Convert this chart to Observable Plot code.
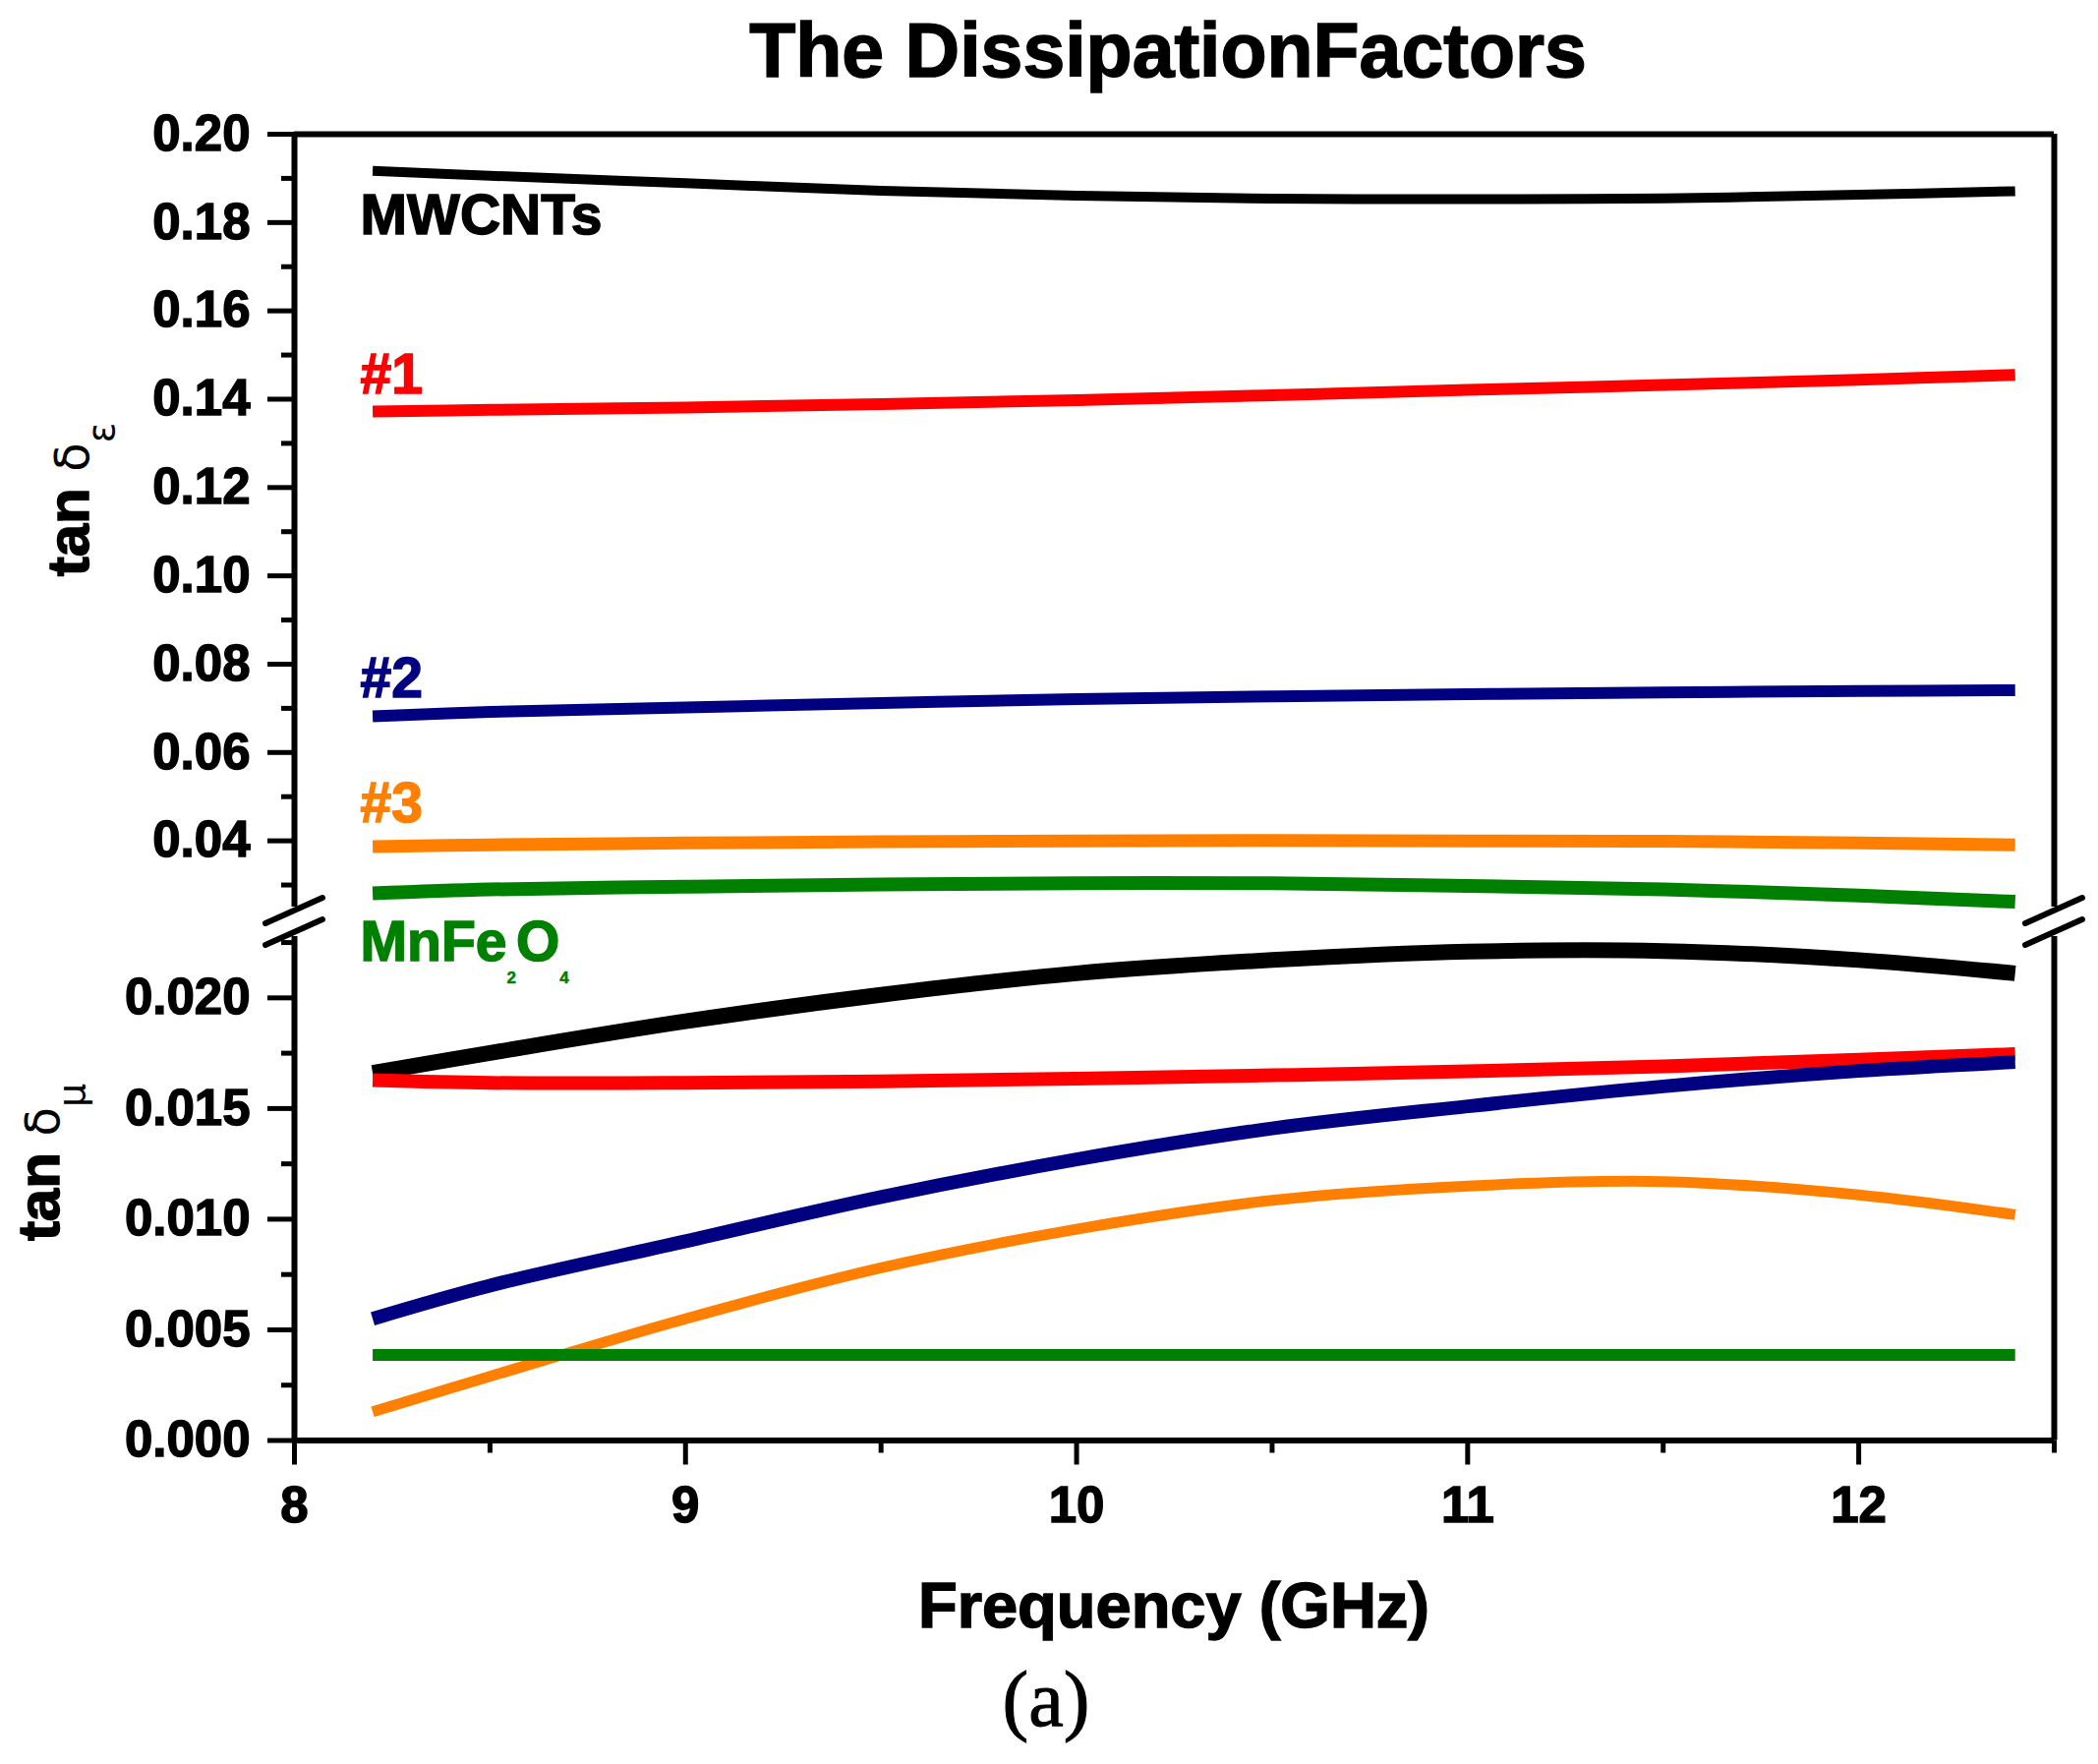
<!DOCTYPE html>
<html>
<head>
<meta charset="utf-8">
<script src="https://cdn.jsdelivr.net/npm/d3@7"></script>
<script src="https://cdn.jsdelivr.net/npm/@observablehq/plot@0.6"></script>
<style>
  html, body { margin: 0; padding: 0; background: #fff; }
  #wrap { position: relative; width: 2134px; height: 1794px; background: #fff; font-family: "Liberation Sans", Arial, sans-serif; }
  #wrap > svg { position: absolute; left: 0; top: 0; }
  #wrap g[aria-label="y-axis tick label"] text,
  #wrap g[aria-label="x-axis tick label"] text { stroke: #000; stroke-width: 1.4px; }
</style>
</head>
<body>
<div id="wrap"></div>
<script>
// ---------- data ----------
const freq = [8.2, 8.5, 9.0, 9.5, 10.0, 10.5, 11.0, 11.5, 12.0, 12.4];
const seriesNames = ["MWCNTs", "#1", "#2", "#3", "MnFe2O4"];
const seriesColors = ["#000000", "#ff0000", "#000080", "#ff8000", "#008000"];

// tan δε (upper panel)
const epsMWCNTs = [0.1917, 0.1906, 0.1889, 0.1872, 0.1861, 0.1854, 0.1853, 0.1855, 0.1863, 0.1871];
const eps1      = [0.1372, 0.1376, 0.1381, 0.1389, 0.1398, 0.1409, 0.1421, 0.1432, 0.1444, 0.1455];
const eps2      = [0.0682, 0.0692, 0.0702, 0.0712, 0.0721, 0.0727, 0.0732, 0.0736, 0.0739, 0.0741];
const eps3      = [0.0387, 0.0391, 0.0395, 0.0398, 0.0400, 0.0401, 0.0400, 0.0399, 0.0395, 0.0391];
const epsMnFe   = [0.0281, 0.0290, 0.0296, 0.0301, 0.0304, 0.0304, 0.0298, 0.0290, 0.0276, 0.0262];

// tan δμ (lower panel)
const muMWCNTs = [0.01661, 0.01751, 0.01894, 0.02014, 0.02111, 0.02171, 0.02209, 0.02212, 0.02171, 0.02111];
const mu1      = [0.01628, 0.01616, 0.01616, 0.01623, 0.01635, 0.01650, 0.01668, 0.01691, 0.01721, 0.01746];
const mu2      = [0.00550, 0.00700, 0.00900, 0.01100, 0.01270, 0.01410, 0.01510, 0.01600, 0.01670, 0.01710];
const mu3      = [0.00130, 0.00290, 0.00550, 0.00780, 0.00955, 0.01085, 0.01150, 0.01170, 0.01110, 0.01020];
const muMnFe   = [0.00387, 0.00387, 0.00387, 0.00387, 0.00387, 0.00387, 0.00387, 0.00387, 0.00387, 0.00387];

// axes
const xDomain = [8, 12.5];
const xMajor = [8, 9, 10, 11, 12];
const xMinor = [8.5, 9.5, 10.5, 11.5, 12.5];
const yEpsDomain = [0.025, 0.20];
const yEpsMajor = [0.04, 0.06, 0.08, 0.10, 0.12, 0.14, 0.16, 0.18, 0.20];
const yEpsMinor = [0.03, 0.05, 0.07, 0.09, 0.11, 0.13, 0.15, 0.17, 0.19];
const yMuDomain = [0, 0.02277];
const yMuMajor = [0, 0.005, 0.010, 0.015, 0.020];
const yMuMinor = [0.0025, 0.0075, 0.0125, 0.0175, 0.0225];

// label anchors (frequency, value) for the series names
const epsLabelAnchors = [[8.17, 0.1773], [8.17, 0.1412], [8.17, 0.0724], [8.17, 0.0441]];
const muLabelAnchor = [8.17, 0.02166];

// ---------- build ----------
const epsValues = [epsMWCNTs, eps1, eps2, eps3, epsMnFe];
const muValues = [muMWCNTs, mu1, mu2, mu3, muMnFe];
const epsWidths = [10, 12, 12, 13, 14];
const muWidths = [16, 14, 14, 11, 12];
const rows = vals => seriesNames.flatMap((s, i) => freq.map((f, j) => ({series: s, f, v: vals[i][j]})));
const epsRows = rows(epsValues);
const muRows = rows(muValues);

const FONT = '"Liberation Sans", Arial, sans-serif';
const W = 2134, H = 1794;
const mL = 299, mR = 45;

const lineMarks = (data, widths) => seriesNames.map((s, i) =>
  Plot.line(data.filter(d => d.series === s), {x: "f", y: "v", stroke: seriesColors[i], strokeWidth: widths[i], curve: "catmull-rom", strokeLinecap: "butt"})
);

const upper = Plot.plot({
  width: W, height: 922,
  marginTop: 136, marginBottom: 0, marginLeft: mL, marginRight: mR,
  style: {background: "transparent", overflow: "visible", fontFamily: FONT, fontWeight: "bold"},
  x: {domain: xDomain, axis: null},
  y: {domain: yEpsDomain, label: null},
  marks: [
    Plot.axisY({ticks: yEpsMinor, tickSize: 13, tickFormat: () => "", strokeWidth: 5, label: null}),
    Plot.axisY({ticks: yEpsMajor, tickSize: 27, tickPadding: 18, tickFormat: d3.format(".2f"), strokeWidth: 5, fontSize: 51, fontWeight: "bold", label: null}),
    Plot.ruleX([xDomain[0], xDomain[1]], {strokeWidth: 6}),
    Plot.ruleY([yEpsDomain[1]], {strokeWidth: 6}),
    ...lineMarks(epsRows, epsWidths)
  ]
});

const lower = Plot.plot({
  width: W, height: H,
  marginTop: 952, marginBottom: 329.5, marginLeft: mL, marginRight: mR,
  style: {background: "transparent", overflow: "visible", fontFamily: FONT, fontWeight: "bold"},
  x: {domain: xDomain, label: null},
  y: {domain: yMuDomain, label: null},
  marks: [
    Plot.axisY({ticks: yMuMinor, tickSize: 13, tickFormat: () => "", strokeWidth: 5, label: null}),
    Plot.axisY({ticks: yMuMajor, tickSize: 27, tickPadding: 18, tickFormat: d3.format(".3f"), strokeWidth: 5, fontSize: 51, fontWeight: "bold", label: null}),
    Plot.axisX({ticks: xMinor, tickSize: 13, tickFormat: () => "", strokeWidth: 5, label: null}),
    Plot.axisX({ticks: xMajor, tickSize: 25, tickPadding: 22, tickFormat: d3.format("d"), strokeWidth: 5, fontSize: 51, fontWeight: "bold", label: null}),
    Plot.ruleX([xDomain[0], xDomain[1]], {strokeWidth: 6}),
    Plot.ruleY([yMuDomain[0]], {strokeWidth: 6}),
    ...lineMarks(muRows, muWidths)
  ]
});

const wrap = document.getElementById("wrap");
wrap.appendChild(lower);
wrap.appendChild(upper);

// ---------- overlay: titles, labels, break marks ----------
const xs = upper.scale("x"), ye = upper.scale("y"), ym = lower.scale("y");
const ov = d3.select(wrap).append("svg")
  .attr("width", W).attr("height", H)
  .style("position", "absolute").style("left", 0).style("top", 0)
  .style("font-family", FONT);

ov.append("text").attr("x", 1188).attr("y", 78).attr("text-anchor", "middle")
  .attr("font-size", 77).attr("font-weight", "bold").attr("stroke", "#000").attr("stroke-width", 1.5)
  .text("The DissipationFactors");

ov.append("text").attr("x", 1194).attr("y", 1655).attr("text-anchor", "middle")
  .attr("font-size", 65).attr("font-weight", "bold").attr("stroke", "#000").attr("stroke-width", 1.5)
  .text("Frequency (GHz)");

ov.append("text").attr("x", 1064).attr("y", 1755).attr("text-anchor", "middle")
  .attr("font-size", 80).attr("stroke", "#000").attr("stroke-width", 1)
  .attr("font-family", '"Liberation Serif", "Times New Roman", serif').text("(a)");

function yLabel(x, y, sub) {
  const t = ov.append("text").attr("transform", `translate(${x},${y}) rotate(-90)`)
    .attr("text-anchor", "middle").attr("font-size", 60);
  t.append("tspan").attr("font-weight", "bold").attr("stroke", "#000").attr("stroke-width", 1.5).text("tan ");
  t.append("tspan").attr("font-weight", "normal").attr("font-family", '"DejaVu Sans", sans-serif').attr("font-size", 48).text("δ");
  t.append("tspan").attr("font-weight", "normal").attr("font-family", '"DejaVu Sans", sans-serif').attr("font-size", 38).attr("dy", 26).text(sub);
}
yLabel(90, 508, "ε");
yLabel(60, 1182, "μ");

// series name labels
const labelTexts = ["MWCNTs", "#1", "#2", "#3"];
epsLabelAnchors.forEach(([f, v], i) => {
  ov.append("text").attr("x", xs.apply(f)).attr("y", ye.apply(v))
    .attr("font-size", 57).attr("font-weight", "bold").attr("fill", seriesColors[i])
    .attr("stroke", seriesColors[i]).attr("stroke-width", 1.5).text(labelTexts[i]);
});
{
  const t = ov.append("text").attr("x", xs.apply(muLabelAnchor[0])).attr("y", ym.apply(muLabelAnchor[1]))
    .attr("font-size", 57).attr("font-weight", "bold").attr("fill", seriesColors[4])
    .attr("stroke", seriesColors[4]).attr("stroke-width", 1.5);
  t.append("tspan").text("MnFe");
  t.append("tspan").attr("font-size", 17).attr("stroke-width", 0.5).attr("dy", 23).text("2");
  t.append("tspan").attr("dy", -23).text("O");
  t.append("tspan").attr("font-size", 17).attr("stroke-width", 0.5).attr("dy", 23).text("4");
}

// axis break marks
const gapTop = ye.apply(yEpsDomain[0]), gapBot = ym.apply(yMuDomain[1]);
const mid = (gapTop + gapBot) / 2;
[xs.apply(xDomain[0]), xs.apply(xDomain[1])].forEach(x => {
  [mid - 11, mid + 11].forEach(cy => {
    ov.append("line").attr("x1", x - 29).attr("y1", cy + 13).attr("x2", x + 29).attr("y2", cy - 13)
      .attr("stroke", "#000").attr("stroke-width", 6).attr("stroke-linecap", "round");
  });
});
</script>
</body>
</html>
